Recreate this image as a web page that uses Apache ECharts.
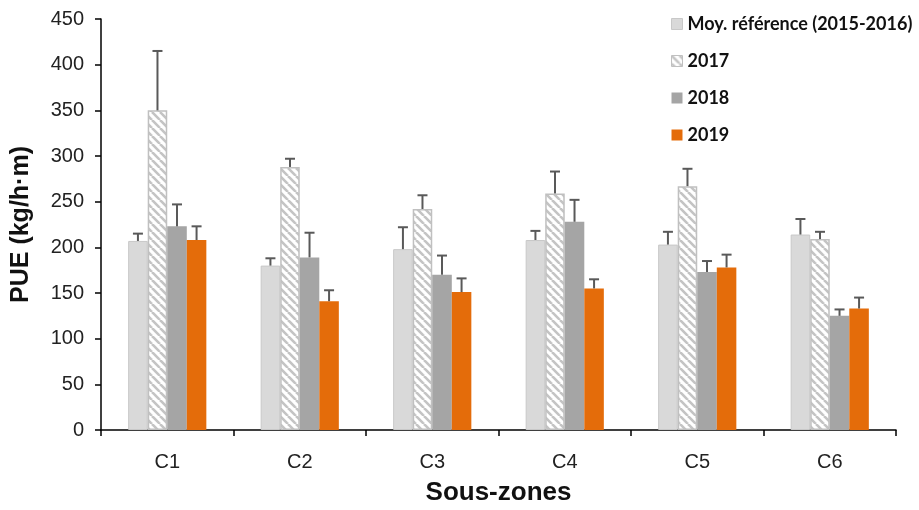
<!DOCTYPE html>
<html>
<head>
<meta charset="utf-8">
<script src="https://cdn.jsdelivr.net/npm/echarts@6/dist/echarts.min.js"></script>
<style>html,body{margin:0;padding:0;background:#fff}#c{width:919px;height:510px}</style>
</head>
<body>
<div id="c"></div>
<script>
const categories = ['C1', 'C2', 'C3', 'C4', 'C5', 'C6'];
const seriesNames = ['Moy. référence (2015-2016)', '2017', '2018', '2019'];
const refMean = [207, 180, 198, 208, 203, 214];
const refErr = [8, 8, 24, 10, 14, 17];
const y2017Mean = [350, 288, 242, 259, 267, 209];
const y2017Err = [65, 9, 15, 24, 19, 8];
const y2018Mean = [223, 189, 170, 228, 173, 125];
const y2018Err = [24, 27, 21, 24, 12, 7];
const y2019Mean = [208, 141, 151, 155, 178, 133];
const y2019Err = [15, 12, 15, 10, 14, 12];
const yTicks = { min: 0, max: 450, interval: 50 };

const means = [refMean, y2017Mean, y2018Mean, y2019Mean];
const errs = [refErr, y2017Err, y2018Err, y2019Err];

// hatch pattern
const pc = document.createElement('canvas');
const S = 8;
pc.width = S; pc.height = S;
const ctx = pc.getContext('2d');
ctx.fillStyle = '#ffffff';
ctx.fillRect(0, 0, S, S);
ctx.strokeStyle = '#c4c4c4';
ctx.lineWidth = 2.6;
for (const x0 of [-S, 0, S]) {
  ctx.beginPath();
  ctx.moveTo(x0, 0);
  ctx.lineTo(x0 + S, S);
  ctx.stroke();
}

const GAP = 0.41;
const styles = [
  { color: '#d9d9d9', borderColor: '#c8c8c8', borderWidth: 1 },
  { color: { image: pc, repeat: 'repeat' }, borderColor: '#c0c0c0', borderWidth: 1.5 },
  { color: '#a5a5a5', borderColor: '#a5a5a5', borderWidth: 0 },
  { color: '#e46c0a', borderColor: '#e46c0a', borderWidth: 0 }
];
const legendColors = ['#d9d9d9', { image: pc, repeat: 'repeat' }, '#a5a5a5', '#e46c0a'];

const series = [];
seriesNames.forEach((name, i) => {
  series.push({
    name: name,
    type: 'bar',
    data: means[i],
    barGap: '0%',
    barCategoryGap: (GAP * 100) + '%',
    itemStyle: styles[i],
    emphasis: { disabled: true },
    z: 2
  });
});
seriesNames.forEach((name, i) => {
  series.push({
    type: 'custom',
    name: 'err' + i,
    z: 5,
    silent: true,
    encode: { x: 0, y: 1 },
    data: means[i].map((m, k) => [k, m, errs[i][k]]),
    renderItem: function (params, api) {
      const cat = api.value(0), m = api.value(1), e = api.value(2);
      const band = api.size([1, 0])[0];
      const bw = band * (1 - GAP) / 4;
      const base = api.coord([cat, m]);
      const top = api.coord([cat, m + e]);
      const x = base[0] + (i - 1.5) * bw;
      const st = { stroke: '#595959', lineWidth: 2 };
      return {
        type: 'group',
        children: [
          { type: 'line', shape: { x1: x, y1: base[1], x2: x, y2: top[1] }, style: st },
          { type: 'line', shape: { x1: x - 5, y1: top[1], x2: x + 5, y2: top[1] }, style: st }
        ]
      };
    }
  });
});

const chart = echarts.init(document.getElementById('c'), null, { renderer: 'canvas' });
chart.setOption({
  animation: false,
  backgroundColor: '#ffffff',
  grid: { left: 101, right: 23, top: 19, bottom: 80, containLabel: false, outerBoundsMode: 'none' },
  legend: {
    orient: 'vertical',
    left: 666,
    top: 10,
    itemWidth: 11,
    itemHeight: 11,
    itemGap: 19,
    icon: 'rect',
    data: seriesNames.map((n, i) => ({ name: n, itemStyle: { color: legendColors[i], borderColor: i === 1 ? '#c0c0c0' : legendColors[i] === '#d9d9d9' ? '#c8c8c8' : undefined, borderWidth: i < 2 ? 1 : 0 } })),
    textStyle: { fontFamily: 'Lato', fontWeight: 'bold', fontSize: 18, color: '#111' },
    selectedMode: false
  },
  xAxis: {
    type: 'category',
    data: categories,
    name: 'Sous-zones',
    nameLocation: 'middle',
    nameGap: 50,
    nameTextStyle: { fontFamily: 'Liberation Sans', fontWeight: 'bold', fontSize: 26, color: '#111' },
    axisLine: { lineStyle: { color: '#000', width: 1.5 } },
    axisTick: { show: true, alignWithLabel: false, length: 6, lineStyle: { color: '#000', width: 1.5 } },
    axisLabel: { fontFamily: 'Liberation Sans', fontSize: 20, color: '#222', margin: 22 }
  },
  yAxis: {
    type: 'value',
    min: yTicks.min,
    max: yTicks.max,
    interval: yTicks.interval,
    name: 'PUE (kg/h·m)',
    nameLocation: 'middle',
    nameGap: 67,
    nameTextStyle: { fontFamily: 'Liberation Sans', fontWeight: 'bold', fontSize: 25, color: '#111' },
    axisLine: { show: true, lineStyle: { color: '#000', width: 1.5 } },
    axisTick: { show: true, length: 6, lineStyle: { color: '#000', width: 1.5 } },
    splitLine: { show: false },
    axisLabel: { fontFamily: 'Liberation Sans', fontSize: 20, color: '#222', margin: 17 }
  },
  series: series
});
</script>
</body>
</html>
